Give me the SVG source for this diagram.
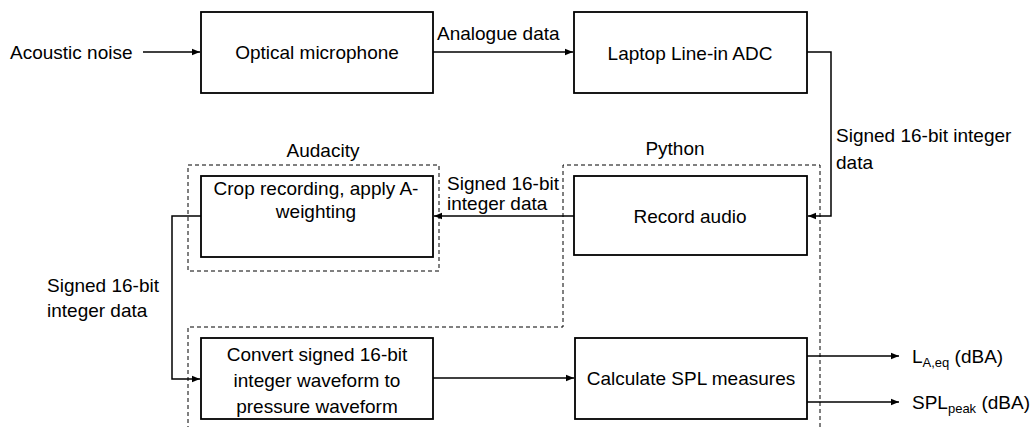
<svg xmlns="http://www.w3.org/2000/svg" width="1033" height="427" viewBox="0 0 1033 427">
<defs>
<style>
.box{fill:#fff;stroke:#000;stroke-width:1.8}
.grp{fill:none;stroke:#000;stroke-width:1;stroke-dasharray:4 3}
.con{fill:none;stroke:#000;stroke-width:1.5}
text{font-family:"Liberation Sans",Arial,sans-serif;font-size:19px;fill:#000}
.c{text-anchor:middle}
</style>
<marker id="ah" viewBox="0 0 8 8" refX="8" refY="4" markerWidth="8" markerHeight="8" markerUnits="userSpaceOnUse" orient="auto">
<path d="M0,0.8 L8,4 L0,7.2 Z" fill="#000"/>
</marker>
</defs>
<rect width="1033" height="427" fill="#fff"/>

<g id="groups">
<rect id="audacity-group" class="grp" x="188" y="165" width="251" height="106"/>
<path id="python-group" class="grp" d="M188,430 L188,327 L563,327 L563,165 L820,165 L820,430"/>
<text class="c" x="323" y="157">Audacity</text>
<text class="c" x="675" y="155">Python</text>
</g>

<g id="connectors">
<line class="con" x1="143" y1="52" x2="200" y2="52" marker-end="url(#ah)"/>
<line class="con" x1="433" y1="52" x2="573" y2="52" marker-end="url(#ah)"/>
<path class="con" d="M807,52 L831,52 L831,216 L808,216" marker-end="url(#ah)"/>
<line class="con" x1="574" y1="216" x2="434" y2="216" marker-end="url(#ah)"/>
<path class="con" d="M201,216 L172,216 L172,379 L200,379" marker-end="url(#ah)"/>
<line class="con" x1="433" y1="378" x2="574" y2="378" marker-end="url(#ah)"/>
<line class="con" x1="807" y1="356" x2="899" y2="356" marker-end="url(#ah)"/>
<line class="con" x1="807" y1="402" x2="899" y2="402" marker-end="url(#ah)"/>
<text x="10" y="59">Acoustic noise</text>
<text x="437" y="40">Analogue data</text>
<text x="836" y="142">Signed 16-bit integer</text>
<text x="836" y="169">data</text>
<text x="447" y="190">Signed 16-bit</text>
<text x="447" y="210">integer data</text>
<text x="47" y="292">Signed 16-bit</text>
<text x="47" y="317">integer data</text>
<text x="912" y="363">L<tspan font-size="13" dy="4">A,eq</tspan><tspan dy="-4"> (dBA)</tspan></text>
<text x="912" y="409">SPL<tspan font-size="13" dy="4">peak</tspan><tspan dy="-4"> (dBA)</tspan></text>
</g>

<g id="optical-microphone">
<rect class="box" x="201" y="12" width="232" height="81"/>
<text class="c" x="317" y="59">Optical microphone</text>
</g>
<g id="laptop-adc">
<rect class="box" x="574" y="12" width="233" height="81"/>
<text class="c" x="690" y="60">Laptop Line-in ADC</text>
</g>
<g id="record-audio">
<rect class="box" x="574" y="176" width="233" height="79"/>
<text class="c" x="690" y="223">Record audio</text>
</g>
<g id="crop-recording">
<rect class="box" x="201" y="176" width="232" height="81"/>
<text class="c" x="316" y="195">Crop recording, apply A-</text>
<text class="c" x="316" y="218">weighting</text>
</g>
<g id="convert-waveform">
<rect class="box" x="201" y="338" width="232" height="81"/>
<text class="c" x="317" y="361">Convert signed 16-bit</text>
<text class="c" x="317" y="387">integer waveform to</text>
<text class="c" x="317" y="413">pressure waveform</text>
</g>
<g id="calculate-spl">
<rect class="box" x="575" y="338" width="232" height="81"/>
<text class="c" x="691" y="385">Calculate SPL measures</text>
</g>
</svg>
